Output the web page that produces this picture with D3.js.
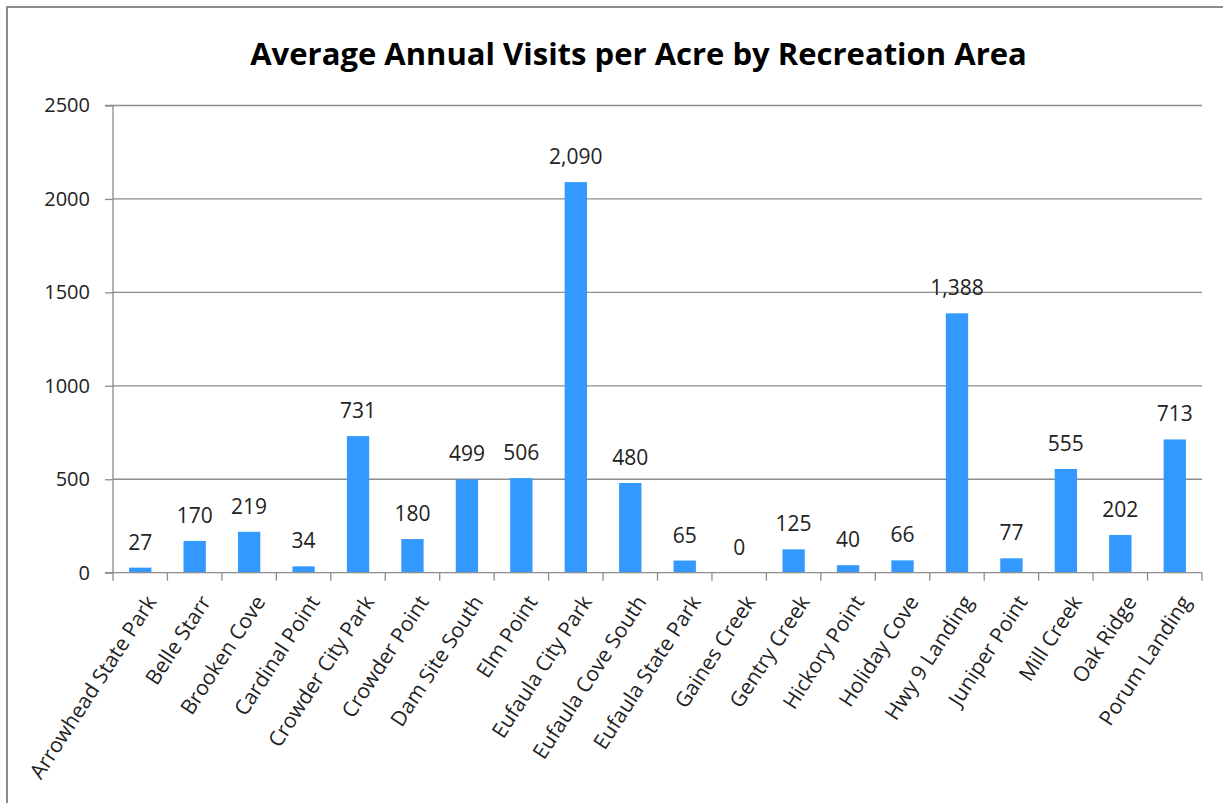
<!DOCTYPE html>
<html><head><meta charset="utf-8">
<script src="https://cdn.jsdelivr.net/npm/d3@7"></script>
<style>html,body{margin:0;padding:0;background:#fff;overflow:hidden}</style>
</head><body>
<svg id="c" width="1223" height="803"></svg>
<script>
const categories = ["Arrowhead State Park","Belle Starr","Brooken Cove","Cardinal Point","Crowder City Park","Crowder Point","Dam Site South","Elm Point","Eufaula City Park","Eufaula Cove South","Eufaula State Park","Gaines Creek","Gentry Creek","Hickory Point","Holiday Cove","Hwy 9 Landing","Juniper Point","Mill Creek","Oak Ridge","Porum Landing"];
const values = [27,170,219,34,731,180,499,506,2090,480,65,0,125,40,66,1388,77,555,202,713];
const yTicks = [0,500,1000,1500,2000,2500];
const title = "Average Annual Visits per Acre by Recreation Area";

const svg = d3.select("#c");
const font = "'Open Sans', 'Noto Sans', sans-serif";
const txt = "#222";
// outer frame
svg.append("rect").attr("x",7).attr("y",7).attr("width",1240).attr("height",820)
  .attr("fill","none").attr("stroke","#8c8c8c").attr("stroke-width",2);

const x0 = 113, x1 = 1202, yTop = 105.5, yBot = 572.7;
const x = d3.scaleBand().domain(categories).range([x0,x1]).paddingInner(0).paddingOuter(0);
const y = d3.scaleLinear().domain([0,2500]).range([yBot,yTop]);

// gridlines
svg.append("g").selectAll("line").data(yTicks.filter(d=>d>0)).join("line")
  .attr("x1",x0).attr("x2",x1).attr("y1",d=>y(d)).attr("y2",d=>y(d))
  .attr("stroke","#8c8c8c").attr("stroke-width",1.3);

// y axis
const ya = svg.append("g").attr("transform",`translate(${x0},0)`)
  .call(d3.axisLeft(y).tickValues(yTicks).tickSize(8).tickPadding(15).tickFormat(d3.format("d")));
ya.select(".domain").attr("stroke","#8c8c8c").attr("stroke-width",1.3).attr("d",`M-8,${yTop}H0V${yBot}H-8`);
ya.selectAll(".tick line").attr("stroke","#8c8c8c").attr("stroke-width",1.3);
ya.selectAll(".tick text").attr("font-family",font).attr("font-size",20).attr("fill",txt);

// bars
const bw = x.bandwidth()*0.41;
svg.append("g").selectAll("rect").data(values).join("rect")
  .attr("x",(d,i)=>x(categories[i])+x.bandwidth()/2-bw/2)
  .attr("y",d=>y(d)).attr("width",bw).attr("height",d=>yBot-y(d))
  .attr("fill","#3399ff");

// data labels
svg.append("g").selectAll("text").data(values).join("text")
  .attr("x",(d,i)=>x(categories[i])+x.bandwidth()/2)
  .attr("y",d=>y(d)-18)
  .attr("text-anchor","middle").attr("font-family",font).attr("font-size",21).attr("fill",txt)
  .text(d=>d3.format(",")(d));

// x axis
const xa = svg.append("g").attr("transform",`translate(0,${yBot})`)
  .call(d3.axisBottom(x).tickSize(0).tickPadding(0));
xa.select(".domain").attr("stroke","#8c8c8c").attr("stroke-width",1.3).attr("d",`M${x0},0H${x1}`);
xa.append("g").selectAll("line").data(d3.range(categories.length+1)).join("line")
  .attr("x1",i=>x0+i*x.step()).attr("x2",i=>x0+i*x.step()).attr("y1",0).attr("y2",8)
  .attr("stroke","#8c8c8c").attr("stroke-width",1.3);
xa.selectAll(".tick text").attr("font-family",font).attr("font-size",21).attr("fill",txt)
  .attr("text-anchor","end").attr("y",0).attr("dy",0)
  .attr("transform","translate(17,29) rotate(-57)");

// title
const t = svg.append("text").attr("x",638.5).attr("y",65).attr("text-anchor","middle")
  .attr("font-family",font).attr("font-weight","bold").attr("font-size",29).attr("fill","#000")
  .text(title);
const len = t.node().getComputedTextLength();
t.attr("font-size", 29*777/len);
</script>
</body></html>
